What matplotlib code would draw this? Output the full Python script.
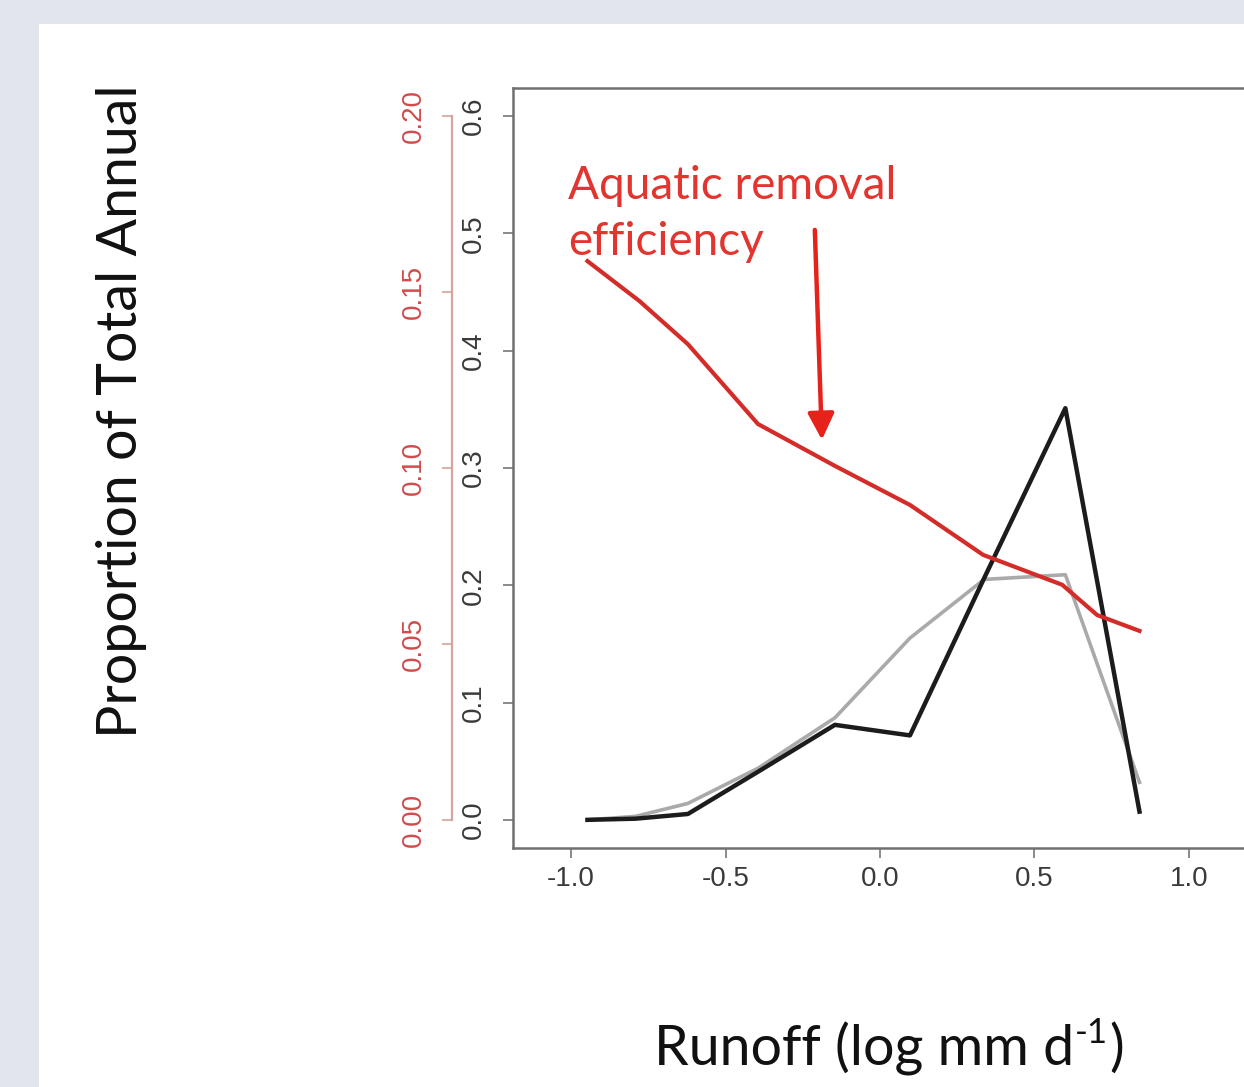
import matplotlib
matplotlib.use("Agg")
import matplotlib.pyplot as plt
from matplotlib.patches import Rectangle

# ---- data ----
runoff = [-0.947, -0.791, -0.622, -0.395, -0.146, 0.097, 0.337, 0.600, 0.840]
prop_black = [0.000, 0.001, 0.005, 0.041, 0.081, 0.072, 0.206, 0.351, 0.007]
prop_gray = [0.000, 0.003, 0.014, 0.044, 0.087, 0.155, 0.205, 0.209, 0.032]
runoff_eff = [-0.947, -0.778, -0.622, -0.395, -0.146, 0.097, 0.334, 0.590, 0.703, 0.840]
efficiency = [0.1588, 0.1474, 0.1352, 0.1125, 0.1006, 0.0895, 0.0753, 0.0668, 0.0582, 0.0537]

x_ticks = [-1.0, -0.5, 0.0, 0.5, 1.0]
x_ticklabels = ["-1.0", "-0.5", "0.0", "0.5", "1.0"]
y_ticks = [0.0, 0.1, 0.2, 0.3, 0.4, 0.5, 0.6]
y_ticklabels = ["0.0", "0.1", "0.2", "0.3", "0.4", "0.5", "0.6"]
eff_ticks = [0.00, 0.05, 0.10, 0.15, 0.20]
eff_ticklabels = ["0.00", "0.05", "0.10", "0.15", "0.20"]
annot_lines = ["Aquatic removal", "efficiency"]

W, H = 1244, 1087
fig = plt.figure(figsize=(W / 100, H / 100), dpi=100)
fig.patch.set_facecolor("#e2e5ee")
fig.patches.append(Rectangle((39 / W, 0), 1, 1 - 24 / H, transform=fig.transFigure,
                             facecolor="white", edgecolor="none", zorder=-10))

left, right, bottom, top = 513, 1247, 848, 88
ax = fig.add_axes([left / W, 1 - bottom / H, (right - left) / W, (bottom - top) / H])
ax.set_zorder(2)
ax.set_facecolor("none")
ax.set_xlim(-1.188, 1.188)
ax.set_ylim(-0.024, 0.624)

tick_font = dict(family="Liberation Sans", size=20)
ax.set_xticks(x_ticks)
ax.set_xticklabels(x_ticklabels, color="#3a3a3a", **tick_font)
ax.set_yticks(y_ticks)
ax.set_yticklabels(y_ticklabels, color="#3a3a3a", rotation=90, va="center", **tick_font)
ax.tick_params(axis="x", length=7, width=1.2, color="#777777", pad=6)
ax.tick_params(axis="y", length=7, width=1.2, color="#777777", pad=12)
for s in ax.spines.values():
    s.set_color("#707070")
    s.set_linewidth(1.8)

ax.plot(runoff, prop_gray, color="#aaaaaa", lw=2.6, zorder=3)
ax.plot(runoff, prop_black, color="#1c1c1c", lw=3.2, zorder=4)

# secondary (efficiency) axis on the left, offset outward
ax2 = ax.twinx()
ax2.set_ylim(-0.008, 0.208)
ax2.yaxis.set_ticks_position("left")
ax2.yaxis.set_label_position("left")
for name in ["top", "right", "bottom"]:
    ax2.spines[name].set_visible(False)
ax2.spines["left"].set_position(("outward", 61 * 0.72))
ax2.spines["left"].set_bounds(0.0, 0.2)
ax2.spines["left"].set_color("#d6a4a0")
ax2.spines["left"].set_linewidth(1.6)
ax2.set_yticks(eff_ticks)
ax2.set_yticklabels(eff_ticklabels, color="#d04c4a", rotation=90, va="center", **tick_font)
ax2.tick_params(axis="y", length=7, width=1.2, color="#d6a4a0", pad=11)
ax2.plot(runoff_eff, efficiency, color="#d42c28", lw=3.0, zorder=5)

# annotation (two lines, baselines)
ax.text(-1.011, 0.529, annot_lines[0], color="#e2352f",
        family="Lato", fontsize=33, va="baseline", ha="left")
ax.text(-1.011, 0.482, annot_lines[1], color="#e2352f",
        family="Lato", fontsize=33, va="baseline", ha="left")
ax.annotate("", xy=(-0.188, 0.324), xytext=(-0.211, 0.503),
            arrowprops=dict(arrowstyle="-|>,head_length=0.8,head_width=0.4",
                            color="#e5231b", lw=3.2, mutation_scale=20, shrinkA=0, shrinkB=0))

# axis titles
fig.text(122 / W, 1 - 411 / H, "Proportion of Total Annual", rotation=90,
         family="Lato", fontsize=40, color="#111111", ha="center", va="center")

fig.canvas.draw()
r = fig.canvas.get_renderer()
t1 = fig.text(0, 0, "Runoff (log mm d", family="Lato", fontsize=40, color="#111111",
              ha="left", va="baseline")
t2 = fig.text(0, 0, "-1", family="Lato", fontsize=25, color="#111111", ha="left", va="baseline")
t3 = fig.text(0, 0, ")", family="Lato", fontsize=40, color="#111111", ha="left", va="baseline")
w1 = t1.get_window_extent(r).width
w2 = t2.get_window_extent(r).width
w3 = t3.get_window_extent(r).width
total = w1 + w2 + w3
x0 = 888 - total / 2
base = H - 1065
t1.set_position((x0 / W, base / H))
t2.set_position(((x0 + w1 + 1) / W, (base + 22) / H))
t3.set_position(((x0 + w1 + w2 + 2) / W, base / H))

fig.savefig("out.png", dpi=100, facecolor=fig.get_facecolor())
